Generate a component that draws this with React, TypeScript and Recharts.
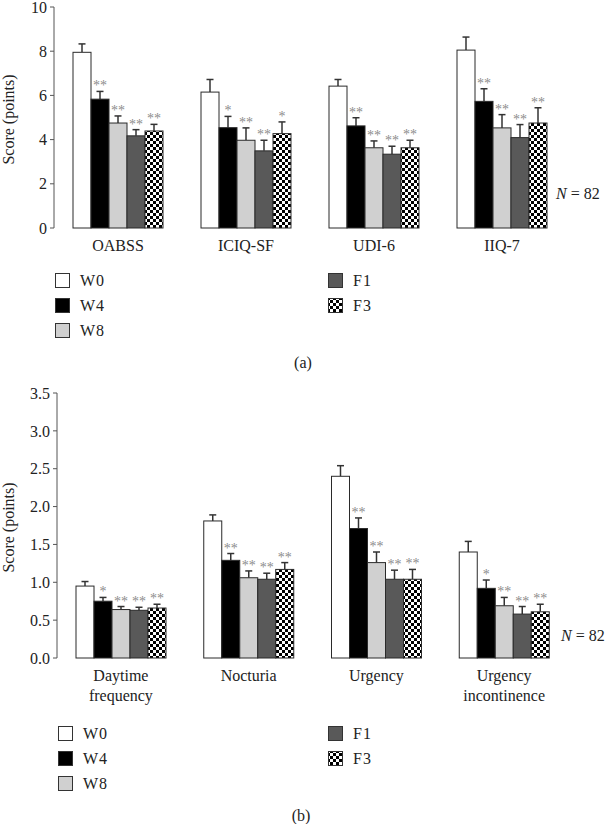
import React from "react";
import { BarChart, Bar, XAxis, YAxis } from "recharts";

const FONT = '"Liberation Serif", "DejaVu Serif", serif';
const AXIS = "#555";
const INK = "#222";

const seriesKeys = ["W0", "W4", "W8", "F1", "F3"];

// panel (a)
const topCategories = ["OABSS", "ICIQ-SF", "UDI-6", "IIQ-7"];
const topW0 = [7.95, 6.15, 6.42, 8.05];
const topW4 = [5.83, 4.54, 4.62, 5.73];
const topW8 = [4.75, 3.97, 3.63, 4.53];
const topF1 = [4.17, 3.49, 3.34, 4.09];
const topF3 = [4.39, 4.27, 3.63, 4.75];
const topW0Err = [0.38, 0.57, 0.3, 0.59];
const topW4Err = [0.35, 0.51, 0.37, 0.57];
const topW8Err = [0.32, 0.56, 0.31, 0.6];
const topF1Err = [0.28, 0.48, 0.36, 0.59];
const topF3Err = [0.3, 0.53, 0.34, 0.69];
const topW4Star = ["**", "*", "**", "**"];
const topW8Star = ["**", "**", "**", "**"];
const topF1Star = ["**", "**", "**", "**"];
const topF3Star = ["**", "*", "**", "**"];
const topTicks = [0, 2, 4, 6, 8, 10];

// panel (b)
const botCategories = ["Daytime\nfrequency", "Nocturia", "Urgency", "Urgency\nincontinence"];
const botW0 = [0.95, 1.81, 2.4, 1.4];
const botW4 = [0.75, 1.29, 1.71, 0.92];
const botW8 = [0.64, 1.06, 1.26, 0.69];
const botF1 = [0.63, 1.04, 1.04, 0.58];
const botF3 = [0.66, 1.17, 1.04, 0.61];
const botW0Err = [0.06, 0.08, 0.14, 0.14];
const botW4Err = [0.05, 0.09, 0.14, 0.11];
const botW8Err = [0.04, 0.09, 0.14, 0.11];
const botF1Err = [0.04, 0.08, 0.12, 0.1];
const botF3Err = [0.05, 0.09, 0.13, 0.1];
const botW4Star = ["*", "**", "**", "*"];
const botW8Star = ["**", "**", "**", "**"];
const botF1Star = ["**", "**", "**", "**"];
const botF3Star = ["**", "**", "**", "**"];
const botTicks = [0, 0.5, 1, 1.5, 2, 2.5, 3, 3.5];

const edgeTicks = [0, 1, 2, 3, 4];

function buildRows(cats: string[], vals: number[][], errs: number[][], stars: (string[] | null)[]) {
  return cats.map((name, i) => {
    const row: any = { name };
    seriesKeys.forEach((k, j) => {
      row[k] = vals[j][i];
      row[k + "Err"] = errs[j][i];
      row[k + "Star"] = stars[j] ? stars[j]![i] : "";
    });
    return row;
  });
}

const topRows = buildRows(
  topCategories,
  [topW0, topW4, topW8, topF1, topF3],
  [topW0Err, topW4Err, topW8Err, topF1Err, topF3Err],
  [null, topW4Star, topW8Star, topF1Star, topF3Star]
);
const botRows = buildRows(
  botCategories,
  [botW0, botW4, botW8, botF1, botF3],
  [botW0Err, botW4Err, botW8Err, botF1Err, botF3Err],
  [null, botW4Star, botW8Star, botF1Star, botF3Star]
);

function fillFor(key: string, patId: string) {
  if (key === "W0") return "#ffffff";
  if (key === "W4") return "#000000";
  if (key === "W8") return "#d0d0d0";
  if (key === "F1") return "#595959";
  return `url(#${patId})`;
}

const Checker = ({ id }: { id: string }) => (
  <pattern id={id} patternUnits="userSpaceOnUse" width={6} height={6}>
    <rect width={6} height={6} fill="#fff" />
    <rect width={3} height={3} fill="#000" />
    <rect x={3} y={3} width={3} height={3} fill="#000" />
  </pattern>
);

// bar + upward error bar + significance stars, sized from the bar's own scale
function makeShape(key: string, fill: string) {
  return (p: any) => {
    const { x, y, width, height, payload } = p;
    const v = payload[key];
    const e = payload[key + "Err"];
    const s = payload[key + "Star"];
    const ppu = v ? height / v : 0;
    const cx = x + width / 2;
    const top = y - e * ppu;
    return (
      <g>
        <line x1={cx} x2={cx} y1={y} y2={top} stroke="#333" strokeWidth={1.5} />
        <line x1={cx - 3.5} x2={cx + 3.5} y1={top} y2={top} stroke="#333" strokeWidth={1.5} />
        <rect x={x} y={y} width={width} height={height} fill={fill} stroke="#2a2a2a" strokeWidth={1} />
        {s ? (
          <text x={cx} y={top - 1} textAnchor="middle" fontSize={14} fill="#8c8c8c" fontFamily={FONT}>
            {s}
          </text>
        ) : null}
      </g>
    );
  };
}

const CatTick = (props: any) => {
  const { x, y, payload } = props;
  const lines = String(payload.value).split("\n");
  return (
    <text x={x} y={y} textAnchor="middle" fontSize={16} fill={INK} fontFamily={FONT}>
      {lines.map((l, i) => (
        <tspan key={i} x={x} dy={i === 0 ? 23 : 20}>
          {l}
        </tspan>
      ))}
    </text>
  );
};

function Panel({
  rows,
  patId,
  height,
  top,
  right,
  yWidth,
  xHeight,
  domain,
  ticks,
  fmt,
}: {
  rows: any[];
  patId: string;
  height: number;
  top: number;
  right: number;
  yWidth: number;
  xHeight: number;
  domain: [number, number];
  ticks: number[];
  fmt: (v: number) => string;
}) {
  const yLabel = ({ viewBox }: any) => {
    if (!viewBox) return null;
    const cy = viewBox.y + viewBox.height / 2 + 2;
    return (
      <text
        x={14}
        y={cy}
        transform={`rotate(-90, 14, ${cy})`}
        textAnchor="middle"
        fontSize={16}
        fill={INK}
        fontFamily={FONT}
      >
        Score (points)
      </text>
    );
  };

  return (
    <BarChart
      width={607}
      height={height}
      data={rows}
      margin={{ top, right, bottom: 0, left: 0 }}
      barGap={0}
      barSize={18}
    >
      <defs>
        <Checker id={patId} />
      </defs>
      <XAxis
        xAxisId="edge"
        type="number"
        domain={[0, 4]}
        ticks={edgeTicks}
        tick={false}
        height={0}
        stroke={AXIS}
        tickSize={5}
        allowDataOverflow
      />
      <XAxis
        dataKey="name"
        axisLine={false}
        tickLine={false}
        tickSize={0}
        tickMargin={0}
        height={xHeight}
        interval={0}
        tick={<CatTick />}
      />
      <YAxis
        width={yWidth}
        domain={domain}
        ticks={ticks}
        interval={0}
        tickFormatter={fmt}
        stroke={AXIS}
        tickSize={4}
        tickMargin={3}
        tick={{ fontSize: 16, fill: INK, fontFamily: FONT }}
        label={{ content: yLabel }}
      />
      {seriesKeys.map((k) => {
        const fill = fillFor(k, patId);
        return (
          <Bar
            key={k}
            dataKey={k}
            fill={fill}
            isAnimationActive={false}
            shape={makeShape(k, fill)}
          />
        );
      })}
    </BarChart>
  );
}

function Legend({ patId, rowsY, left, right }: { patId: string; rowsY: number[]; left: number; right: number }) {
  const place = [
    { k: "W0", x: left, y: rowsY[0] },
    { k: "W4", x: left, y: rowsY[1] },
    { k: "W8", x: left, y: rowsY[2] },
    { k: "F1", x: right, y: rowsY[0] },
    { k: "F3", x: right, y: rowsY[1] },
  ];
  return (
    <g>
      <defs>
        <Checker id={patId} />
      </defs>
      {place.map((p) => (
        <g key={p.k}>
          <rect
            x={p.x + 0.5}
            y={p.y - 6.5}
            width={14}
            height={14}
            fill={fillFor(p.k, patId)}
            stroke="#333"
            strokeWidth={1}
          />
          <text x={p.x + 25} y={p.y + 5.5} fontSize={16} fill={INK} fontFamily={FONT} letterSpacing={1}>
            {p.k}
          </text>
        </g>
      ))}
    </g>
  );
}

const NLabel = ({ x, y }: { x: number; y: number }) => (
  <text x={x} y={y} fontSize={16} fill={INK} fontFamily={FONT}>
    <tspan fontStyle="italic">N</tspan> = 82
  </text>
);

export default function App() {
  return (
    <div
      style={{
        position: "absolute",
        left: 0,
        top: 0,
        width: 607,
        height: 824,
        background: "#fff",
        fontFamily: FONT,
        overflow: "hidden",
      }}
    >
      <div style={{ position: "absolute", left: 0, top: 0 }}>
        <Panel
          rows={topRows}
          patId="checkA"
          height={260}
          top={7}
          right={41}
          yWidth={54}
          xHeight={32}
          domain={[0, 10]}
          ticks={topTicks}
          fmt={(v) => String(v)}
        />
      </div>
      <div style={{ position: "absolute", left: 0, top: 380 }}>
        <Panel
          rows={botRows}
          patId="checkB"
          height={328}
          top={13}
          right={39}
          yWidth={57}
          xHeight={50}
          domain={[0, 3.5]}
          ticks={botTicks}
          fmt={(v) => v.toFixed(1)}
        />
      </div>
      <svg
        width={607}
        height={824}
        style={{ position: "absolute", left: 0, top: 0, pointerEvents: "none" }}
      >
        <NLabel x={556} y={199} />
        <NLabel x={561} y={641} />
        <Legend patId="checkLa" rowsY={[280, 305, 330]} left={55} right={328} />
        <Legend patId="checkLb" rowsY={[733, 758, 783]} left={58} right={328} />
        <text x={303} y={368} textAnchor="middle" fontSize={16} fill={INK} fontFamily={FONT}>
          (a)
        </text>
        <text x={301} y={821} textAnchor="middle" fontSize={16} fill={INK} fontFamily={FONT}>
          (b)
        </text>
      </svg>
    </div>
  );
}
